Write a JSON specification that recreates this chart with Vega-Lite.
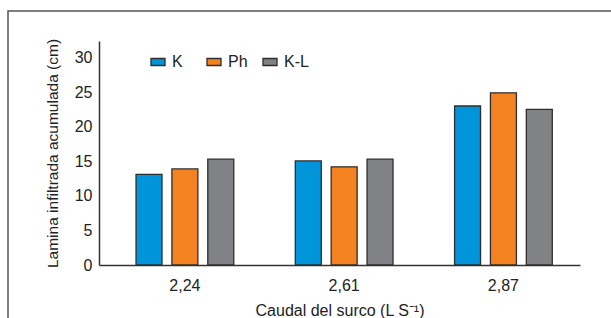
{
  "$schema": "https://vega.github.io/schema/vega-lite/v6.json",
  "autosize": {"type": "none"},
  "padding": {"left": 8, "top": 11, "right": -2, "bottom": -2},
  "width": 605,
  "height": 309,
  "data": {
    "values": [
      {"caudal": "2,24", "serie": "K", "valor": 13.1},
      {"caudal": "2,24", "serie": "Ph", "valor": 13.9},
      {"caudal": "2,24", "serie": "K-L", "valor": 15.3},
      {"caudal": "2,61", "serie": "K", "valor": 15.05},
      {"caudal": "2,61", "serie": "Ph", "valor": 14.2},
      {"caudal": "2,61", "serie": "K-L", "valor": 15.3},
      {"caudal": "2,87", "serie": "K", "valor": 23.0},
      {"caudal": "2,87", "serie": "Ph", "valor": 24.9},
      {"caudal": "2,87", "serie": "K-L", "valor": 22.5}
    ]
  },
  "mark": {"type": "bar", "stroke": "#2e2e2e", "strokeWidth": 1.3},
  "encoding": {
    "x": {
      "field": "caudal",
      "type": "nominal",
      "sort": null,
      "scale": {"range": [91, 572], "paddingInner": 0.346, "paddingOuter": 0.183, "align": 0.58},
      "axis": {
        "title": "Caudal del surco (L S⁻¹)",
        "offset": -55,
        "labelAngle": 0,
        "ticks": false,
        "tickSize": 0,
        "labelPadding": 12,
        "labelFontSize": 16,
        "labelColor": "#222",
        "titleFontSize": 16,
        "titleFontWeight": "normal",
        "titleColor": "#222",
        "titlePadding": 9,
        "domainColor": "#333",
        "domainWidth": 1.5
      }
    },
    "xOffset": {
      "field": "serie",
      "sort": ["K", "Ph", "K-L"],
      "scale": {"paddingInner": 0.276, "paddingOuter": 0.09}
    },
    "y": {
      "field": "valor",
      "type": "quantitative",
      "scale": {"domain": [0, 32.4], "range": [254, 30], "nice": false},
      "axis": {
        "title": "Lamina infiltrada acumulada (cm)",
        "offset": -91,
        "values": [0, 5, 10, 15, 20, 25, 30],
        "grid": false,
        "ticks": false,
        "tickSize": 0,
        "labelPadding": 7,
        "labelFontSize": 16,
        "labelColor": "#222",
        "titleFontSize": 15.5,
        "titleFontWeight": "normal",
        "titleColor": "#222",
        "titlePadding": 14,
        "domainColor": "#333",
        "domainWidth": 1.5
      }
    },
    "color": {
      "field": "serie",
      "type": "nominal",
      "scale": {"domain": ["K", "Ph", "K-L"], "range": ["#0095da", "#f58220", "#808285"]},
      "legend": {
        "orient": "none",
        "legendX": 142,
        "legendY": 43,
        "direction": "horizontal",
        "title": null,
        "padding": 0,
        "symbolType": "M-1,-0.5h2v1h-2z",
        "symbolSize": 196,
        "symbolStrokeColor": "#2e2e2e",
        "symbolStrokeWidth": 1.3,
        "symbolOpacity": 1,
        "labelFontSize": 16,
        "labelColor": "#222",
        "labelOffset": 6,
        "columnPadding": 7,
        "gridAlign": "all"
      }
    }
  },
  "config": {
    "font": "Liberation Sans",
    "view": {"stroke": "#555", "strokeWidth": 1.5}
  }
}
